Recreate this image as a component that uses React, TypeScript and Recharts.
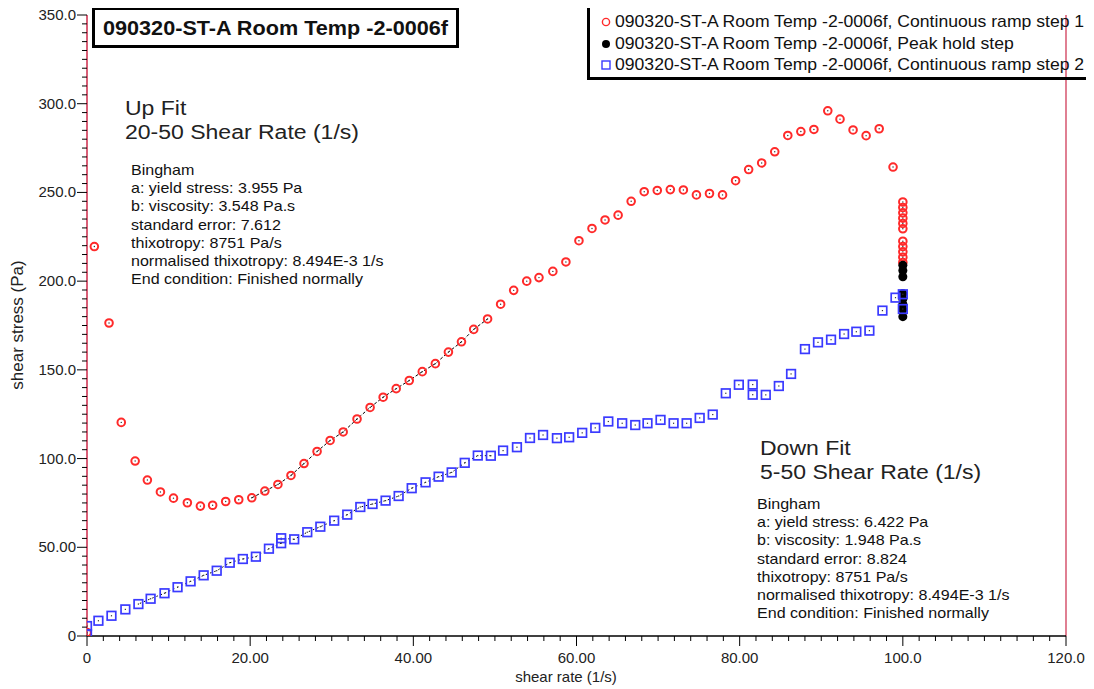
import { ReferenceLine, Scatter, ScatterChart, XAxis, YAxis } from "recharts";

// continuous ramp step 1 (red circles)
const step1Rate = [
  0, 0.9, 2.7, 4.2, 5.9, 7.4, 9.0, 10.6, 12.3, 13.9, 15.4, 17.0, 18.6, 20.2, 21.8, 23.4, 25.0, 26.6, 28.2,
  29.8, 31.4, 33.1, 34.7, 36.3, 37.9, 39.5, 41.1, 42.7, 44.3, 45.9, 47.4, 49.1, 50.7, 52.3, 53.9, 55.4,
  57.1, 58.7, 60.3, 61.9, 63.5, 65.1, 66.7, 68.3, 69.9, 71.5, 73.1, 74.7, 76.3, 77.9, 79.5, 81.1, 82.7,
  84.3, 85.9, 87.5, 89.1, 90.8, 92.3, 93.9, 95.5, 97.1, 98.8, 100, 100, 100, 100, 100, 100, 100, 100, 100,
  100, 100,
];
const step1Stress = [
  2, 219.5, 176.4, 120.4, 98.6, 87.9, 81.2, 77.7, 75.1, 73.2, 73.7, 75.8, 76.8, 77.9, 81.7, 85.4, 90.5,
  97.2, 104.0, 110.2, 115.0, 122.3, 128.8, 134.6, 139.4, 144.0, 149.0, 153.5, 160.0, 165.8, 172.8, 178.7,
  187.0, 194.8, 200.0, 202.0, 205.5, 210.8, 222.8, 229.7, 234.5, 237.2, 245.0, 250.4, 251.1, 251.6, 251.4,
  248.6, 249.4, 248.6, 256.6, 262.9, 266.6, 272.9, 282.1, 284.3, 285.5, 296.0, 291.3, 285.2, 282.0, 285.9,
  264.3, 244.6, 241.5, 238.5, 235.5, 232.5, 229.5, 222.5, 219.5, 216.5, 213.5, 210.5,
];

// peak hold step (black dots)
const holdRate = [100, 100, 100, 100, 100, 100, 100, 100];
const holdStress = [209, 206, 202.5, 193, 190, 187, 184, 180];

// continuous ramp step 2 (blue squares)
const step2Rate = [
  100, 100, 99.1, 97.5, 95.9, 94.3, 92.8, 91.2, 89.6, 88.0, 86.3, 84.8, 83.2, 81.6, 81.6, 79.9, 78.3, 76.7,
  75.1, 73.5, 71.9, 70.3, 68.7, 67.2, 65.6, 63.9, 62.3, 60.7, 59.1, 57.6, 55.9, 54.3, 52.7, 51.0, 49.5,
  47.9, 46.3, 44.7, 43.1, 41.5, 39.8, 38.2, 36.6, 35.0, 33.5, 31.9, 30.3, 28.6, 27.0, 25.4, 23.8, 23.8,
  22.3, 20.7, 19.1, 17.5, 15.9, 14.3, 12.7, 11.1, 9.5, 7.8, 6.3, 4.7, 3.0, 1.4, 0, 0,
];
const step2Stress = [
  192.6, 184.3, 190.7, 183.4, 172.1, 171.5, 170.2, 167.0, 165.5, 161.7, 147.7, 140.9, 135.9, 136.0, 141.7,
  141.6, 136.8, 124.8, 122.9, 119.9, 119.9, 121.8, 119.9, 118.9, 119.9, 120.9, 117.3, 114.5, 112.0, 111.5,
  113.3, 111.6, 106.4, 104.5, 101.6, 101.7, 97.6, 92.2, 89.8, 86.6, 83.3, 78.9, 76.3, 74.4, 72.7, 68.4,
  65.0, 61.6, 58.5, 54.5, 55.1, 52.3, 49.2, 44.7, 43.4, 41.3, 36.8, 34.2, 30.8, 27.5, 24.1, 21.0, 18.0,
  15.0, 11.4, 8.6, 5.6, 1.1,
];

const xTicks = Array.from({ length: 61 }, (_, i) => i * 2);
const yTicks = Array.from({ length: 71 }, (_, i) => i * 5);
const xLabels: Record<number, string> = { 0: "0", 20: "20.00", 40: "40.00", 60: "60.00", 80: "80.00", 100: "100.0", 120: "120.0" };
const yLabels: Record<number, string> = { 0: "0", 50: "50.00", 100: "100.0", 150: "150.0", 200: "200.0", 250: "250.0", 300: "300.0", 350: "350.0" };

const legendLabels = [
  "090320-ST-A Room Temp -2-0006f, Continuous ramp step 1",
  "090320-ST-A Room Temp -2-0006f, Peak hold step",
  "090320-ST-A Room Temp -2-0006f, Continuous ramp step 2",
];
const upFitLines = [
  "Bingham",
  "a: yield stress: 3.955 Pa",
  "b: viscosity: 3.548 Pa.s",
  "standard error: 7.612",
  "thixotropy: 8751 Pa/s",
  "normalised thixotropy: 8.494E-3 1/s",
  "End condition: Finished normally",
];
const downFitLines = [
  "Bingham",
  "a: yield stress: 6.422 Pa",
  "b: viscosity: 1.948 Pa.s",
  "standard error: 8.824",
  "thixotropy: 8751 Pa/s",
  "normalised thixotropy: 8.494E-3 1/s",
  "End condition: Finished normally",
];

const RED = "#ff2a2a";
const BLUE = "#3a3aff";
const AXIS_RED = "#cc2a4a";
const FONT = "'Liberation Sans', Arial, sans-serif";
const NARROW = "'Liberation Sans Narrow', 'Liberation Sans', Arial, sans-serif";

const zip = (xs: number[], ys: number[]) => xs.map((x, i) => ({ x, y: ys[i] }));
const step1 = zip(step1Rate, step1Stress);
const hold = zip(holdRate, holdStress);
const step2 = zip(step2Rate, step2Stress);
const upFit = step1.filter((d) => d.x >= 20 && d.x <= 50);
const downFit = step2.filter((d) => d.x >= 5 && d.x <= 50);

const RedCircle = (p: any) => (
  <g>
    <circle cx={p.cx} cy={p.cy} r={3.8} fill="none" stroke={RED} strokeWidth={2} />
    <circle cx={p.cx} cy={p.cy} r={0.7} fill="#333" />
  </g>
);
const BlackDot = (p: any) => <circle cx={p.cx} cy={p.cy} r={4.5} fill="#000" />;
const BlueSquare = (p: any) => (
  <g>
    <rect x={p.cx - 4.3} y={p.cy - 4.3} width={8.6} height={8.6} fill="none" stroke={BLUE} strokeWidth={1.7} />
    <rect x={p.cx - 0.6} y={p.cy - 0.6} width={1.2} height={1.2} fill="#333" />
  </g>
);
const NoShape = () => <g />;

const YTick = (p: any) => {
  const v = p.payload.value;
  const major = v % 50 === 0;
  return (
    <g>
      <line x1={p.x - (major ? 10 : 5)} x2={p.x} y1={p.y} y2={p.y} stroke="#000" strokeWidth={1} />
      {major && (
        <text x={p.x - 11} y={p.y + 5} textAnchor="end" fontSize={15} fontFamily={NARROW} fill="#222">
          {yLabels[v]}
        </text>
      )}
    </g>
  );
};
const XTick = (p: any) => {
  const v = p.payload.value;
  const major = v % 20 === 0;
  return (
    <g>
      <line x1={p.x} x2={p.x} y1={p.y} y2={p.y + (major ? 10 : 5)} stroke="#000" strokeWidth={1} />
      {major && (
        <text x={p.x} y={p.y + 27} textAnchor="middle" fontSize={15} fontFamily={NARROW} fill="#222">
          {xLabels[v]}
        </text>
      )}
    </g>
  );
};

// wrapper sits at page (8, 0) because of the negative top margin
const abs = (left: number, top: number, extra: object = {}) => ({
  position: "absolute" as const,
  left: left - 8,
  top,
  fontFamily: FONT,
  color: "#111",
  whiteSpace: "nowrap" as const,
  transformOrigin: "left top",
  ...extra,
});

export default function App() {
  return (
    <div style={{ position: "relative", width: 1086, height: 689, marginTop: -8 }}>
      <ScatterChart width={1086} height={689} margin={{ top: 15, right: 28, bottom: 0, left: 0 }}>
        <XAxis
          type="number"
          dataKey="x"
          domain={[0, 120]}
          ticks={xTicks}
          interval={0}
          height={53}
          tickSize={0}
          tickMargin={0}
          tick={XTick}
          axisLine={{ stroke: "#000", strokeWidth: 1.5 }}
          allowDataOverflow
        />
        <YAxis
          type="number"
          dataKey="y"
          domain={[0, 350]}
          ticks={yTicks}
          interval={0}
          width={79}
          tickSize={0}
          tickMargin={0}
          tick={YTick}
          axisLine={{ stroke: AXIS_RED, strokeWidth: 1.5 }}
          allowDataOverflow
        />
        <ReferenceLine x={120} stroke={AXIS_RED} strokeWidth={1.2} />
        <Scatter data={upFit} line={{ stroke: "#000", strokeWidth: 1, strokeDasharray: "3 2" }} shape={NoShape} isAnimationActive={false} />
        <Scatter data={downFit} line={{ stroke: "#000", strokeWidth: 1, strokeDasharray: "1.5 3" }} shape={NoShape} isAnimationActive={false} />
        <Scatter data={step1} shape={RedCircle} isAnimationActive={false} />
        <Scatter data={hold} shape={BlackDot} isAnimationActive={false} />
        <Scatter data={step2} shape={BlueSquare} isAnimationActive={false} />
      </ScatterChart>

      {/* title box */}
      <div
        style={abs(92, 7, {
          width: 353,
          height: 35,
          border: "3px solid #000",
          paddingLeft: 8,
          boxSizing: "content-box",
          background: "#fff",
        })}
      >
        <div style={{ fontWeight: "bold", fontSize: 21, lineHeight: "35px", transform: "scaleX(1.03)", transformOrigin: "left center" }}>
          090320-ST-A Room Temp -2-0006f
        </div>
      </div>

      {/* legend box */}
      <div style={abs(587, 5, { width: 499, height: 69, border: "3px solid #000", fontSize: 17 })}>
        {legendLabels.map((t, i) => (
          <div key={t} style={{ position: "absolute", left: 10, top: 4 + i * 21.5, lineHeight: "20px", whiteSpace: "nowrap" }}>
            <svg width={12} height={12} style={{ marginRight: 3, verticalAlign: "-1px" }}>
              {i === 0 && <circle cx={6} cy={6} r={3.6} fill="none" stroke={RED} strokeWidth={1.4} />}
              {i === 1 && <circle cx={6} cy={6} r={4} fill="#000" />}
              {i === 2 && <rect x={2} y={2} width={8} height={8} fill="none" stroke={BLUE} strokeWidth={1.4} />}
            </svg>
            <span style={{ display: "inline-block", transform: "scaleX(1.035)", transformOrigin: "left center" }}>{t}</span>
          </div>
        ))}
      </div>

      {/* up fit annotation */}
      <div style={abs(125, 96, { fontSize: 20, lineHeight: "24px", color: "#222", transform: "scaleX(1.15)" })}>
        <div>Up Fit</div>
        <div>20-50 Shear Rate (1/s)</div>
      </div>
      <div style={abs(131, 161, { fontSize: 15, lineHeight: "18.2px", color: "#111", transform: "scaleX(1.07)" })}>
        {upFitLines.map((t) => (
          <div key={t}>{t}</div>
        ))}
      </div>

      {/* down fit annotation */}
      <div style={abs(760, 436, { fontSize: 20, lineHeight: "24px", color: "#222", transform: "scaleX(1.15)" })}>
        <div>Down Fit</div>
        <div>5-50 Shear Rate (1/s)</div>
      </div>
      <div style={abs(757, 495, { fontSize: 15, lineHeight: "18.2px", color: "#111", transform: "scaleX(1.07)" })}>
        {downFitLines.map((t) => (
          <div key={t}>{t}</div>
        ))}
      </div>

      {/* axis titles */}
      <div style={abs(566, 668, { transform: "translateX(-50%)", transformOrigin: "center", fontSize: 15, fontFamily: NARROW, color: "#222" })}>
        shear rate (1/s)
      </div>
      <div
        style={abs(18, 325, {
          transform: "translate(-50%, -50%) rotate(-90deg)",
          transformOrigin: "center",
          fontSize: 17,
          fontFamily: NARROW,
          color: "#222",
        })}
      >
        shear stress (Pa)
      </div>
    </div>
  );
}
